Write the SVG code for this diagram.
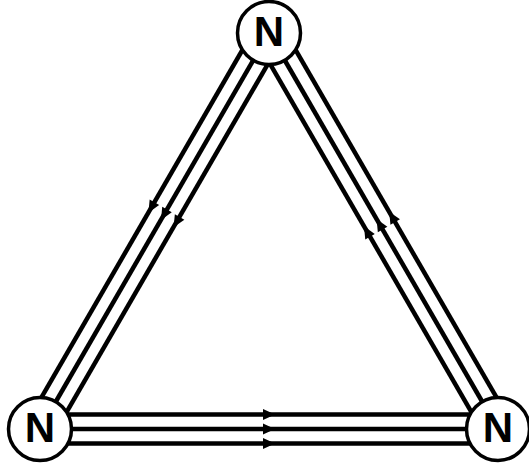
<svg xmlns="http://www.w3.org/2000/svg" xmlns:xlink="http://www.w3.org/1999/xlink" width="529" height="468" viewBox="0 0 529 468">
  <style>
    .ln { stroke: #000; stroke-width: 4.5; fill: none; }
    .nd { fill: #fff; stroke: #000; stroke-width: 3.5; }
    .lb { font-family: "Liberation Sans", Arial, sans-serif; font-weight: bold; font-size: 42px; text-anchor: middle; fill: #000; }
    .ah { fill: #000; }
  </style>
  <defs>
    <path id="ah" class="ah" d="M0,0 L-12,-5.5 L-12,5.5 Z"/>
  </defs>
  <rect width="529" height="468" fill="#fff"/>
  <g id="connectors">
    <!-- top to bottom-left -->
    <line class="ln" x1="269" y1="33" x2="40" y2="429"/>
    <line class="ln" x1="281.55" y1="40.26" x2="52.55" y2="436.26"/>
    <line class="ln" x1="256.45" y1="25.74" x2="27.45" y2="421.74"/>
    <!-- bottom-right to top -->
    <line class="ln" x1="498" y1="429" x2="269" y2="33"/>
    <line class="ln" x1="510.55" y1="421.74" x2="281.55" y2="25.74"/>
    <line class="ln" x1="485.45" y1="436.26" x2="256.45" y2="40.26"/>
    <!-- bottom-left to bottom-right -->
    <line class="ln" x1="40" y1="414.5" x2="498" y2="414.5"/>
    <line class="ln" x1="40" y1="429" x2="498" y2="429"/>
    <line class="ln" x1="40" y1="443.5" x2="498" y2="443.5"/>
    <!-- arrowheads -->
    <use xlink:href="#ah" transform="translate(148.4,212.7) rotate(120.04)"/>
    <use xlink:href="#ah" transform="translate(161,220) rotate(120.04)"/>
    <use xlink:href="#ah" transform="translate(173.6,227.3) rotate(120.04)"/>
    <use xlink:href="#ah" transform="translate(364,226.3) rotate(-120.04)"/>
    <use xlink:href="#ah" transform="translate(376.6,219) rotate(-120.04)"/>
    <use xlink:href="#ah" transform="translate(389.2,211.7) rotate(-120.04)"/>
    <use xlink:href="#ah" transform="translate(275,414.5)"/>
    <use xlink:href="#ah" transform="translate(275,429)"/>
    <use xlink:href="#ah" transform="translate(275,443.5)"/>
  </g>
  <g id="node-top">
    <circle class="nd" cx="269" cy="33" r="31.5"/>
    <text class="lb" x="269" y="46">N</text>
  </g>
  <g id="node-bottom-left">
    <circle class="nd" cx="40" cy="429" r="31.5"/>
    <text class="lb" x="40" y="442">N</text>
  </g>
  <g id="node-bottom-right">
    <circle class="nd" cx="498" cy="429" r="31.5"/>
    <text class="lb" x="498" y="442">N</text>
  </g>
</svg>
